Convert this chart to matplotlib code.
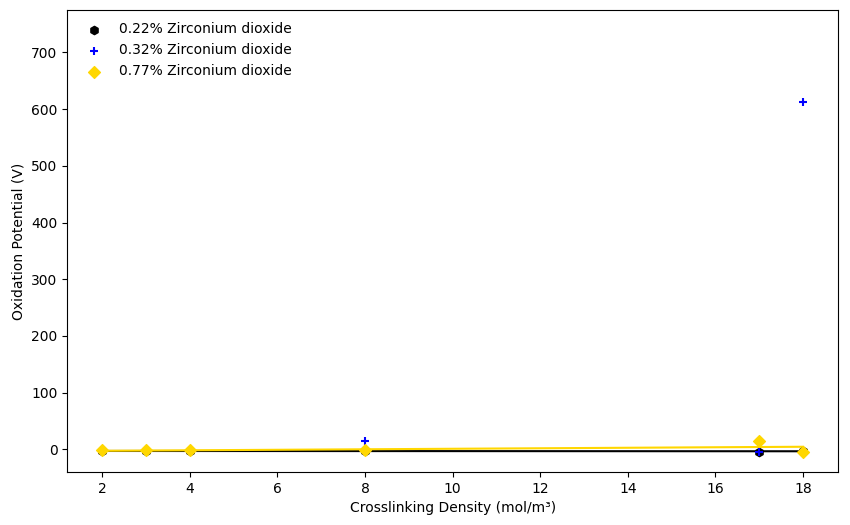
import numpy as np
import matplotlib.pyplot as plt

x_a = [2, 3, 4, 8, 17, 18]
y_a = [-3, -3, -3, -3, -4, -3]
x_b = [8, 17, 18]
y_b = [15, -5, 612]
x_c = [2, 3, 4, 8, 17, 18]
y_c = [-2, -2, -2, -2, 15, -5]

fig, ax = plt.subplots(figsize=(8.5, 5.25), dpi=100)
fig.subplots_adjust(left=0.079, right=0.986, top=0.981, bottom=0.101)

ax.scatter(x_a, y_a, color="black", marker="h", label="0.22% Zirconium dioxide", zorder=3)
ax.scatter(x_b, y_b, color="blue", marker="+", label="0.32% Zirconium dioxide", zorder=3)
ax.scatter(x_c, y_c, color="gold", marker="D", label="0.77% Zirconium dioxide", zorder=3)

for xs, ys, c in [(x_a, y_a, "black"), (x_c, y_c, "gold")]:
    m, b = np.polyfit(xs, ys, 1)
    xx = np.array([min(xs), max(xs)])
    ax.plot(xx, m * xx + b, color=c)

ax.set_ylim(-40, 775)
ax.set_xticks(range(2, 19, 2))
ax.set_xlabel("Crosslinking Density (mol/m³)")
ax.set_ylabel("Oxidation Potential (V)")
ax.legend(loc="upper left", frameon=False)

fig.savefig("out.png")
